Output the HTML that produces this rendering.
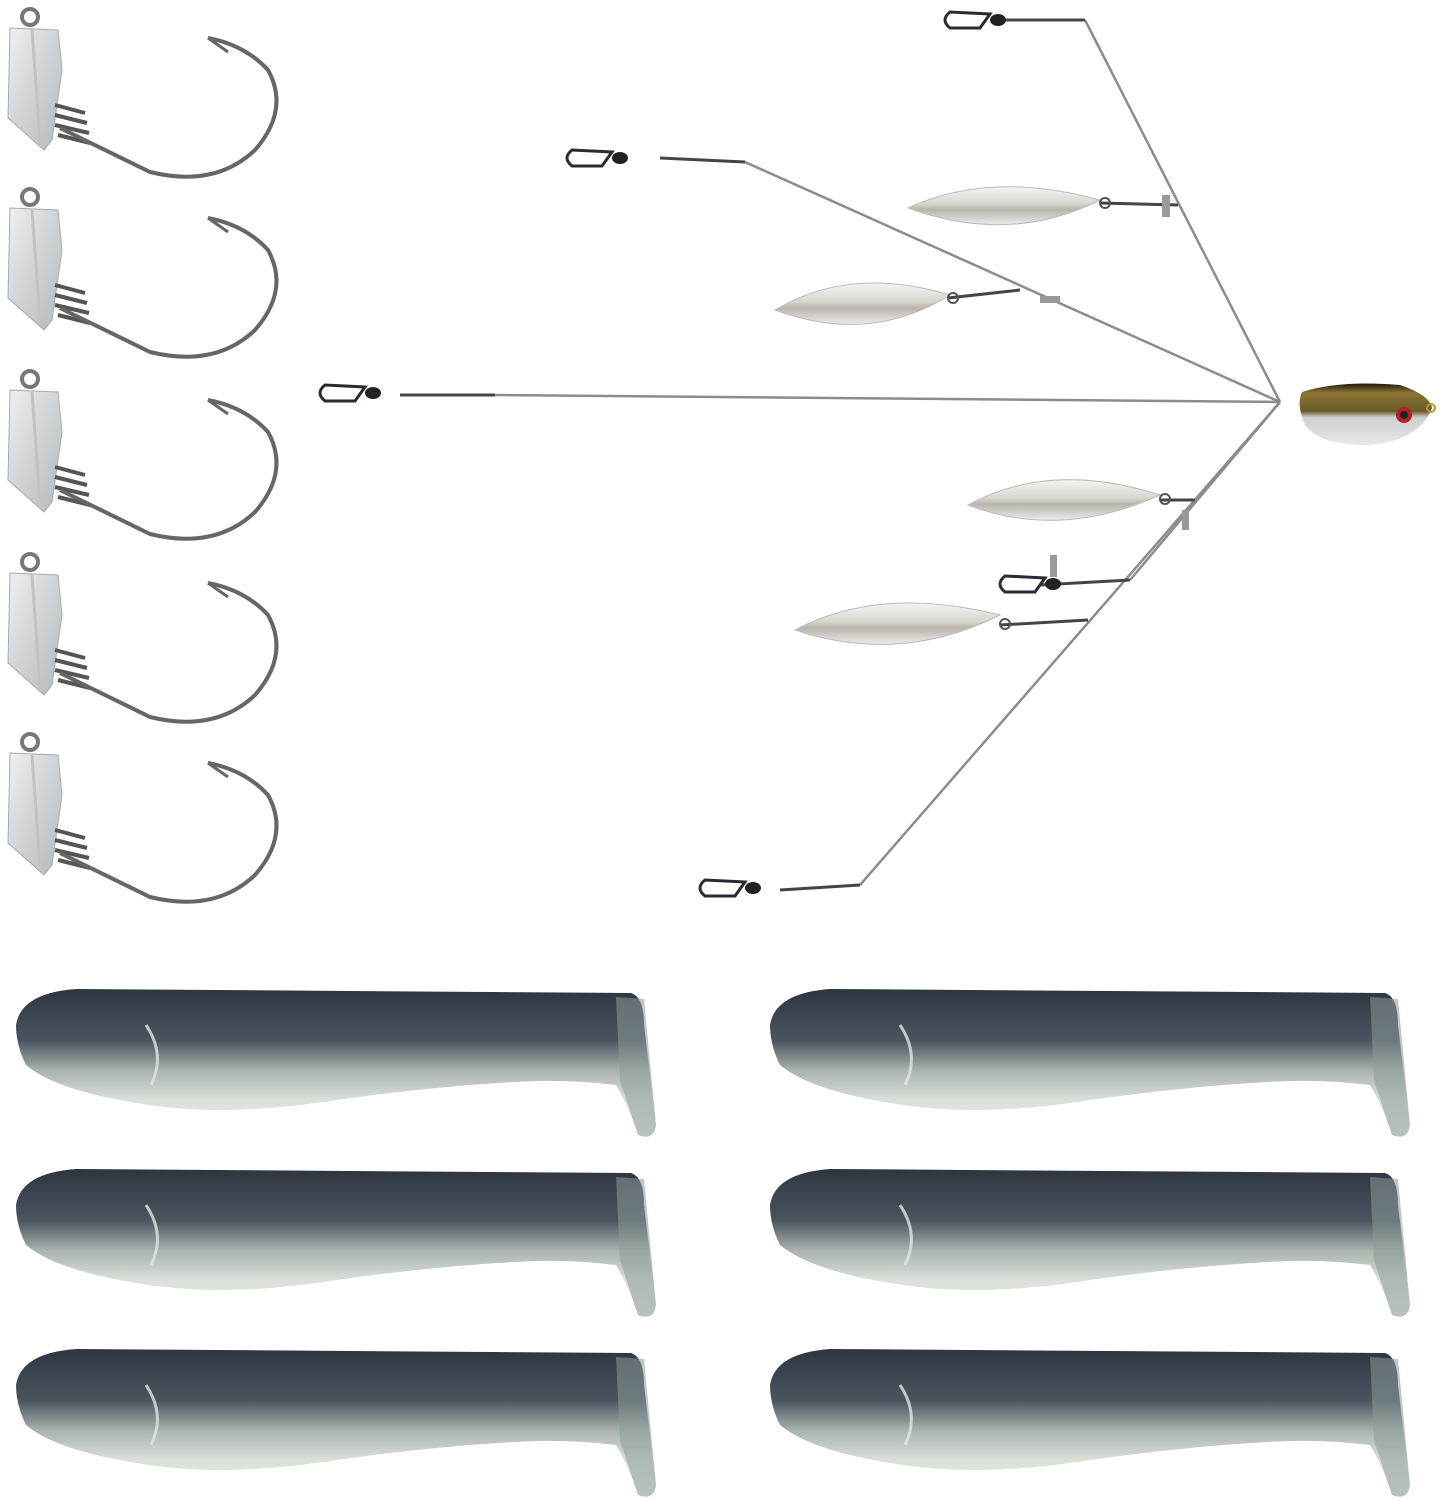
<!DOCTYPE html>
<html><head><meta charset="utf-8"><style>
html,body{margin:0;padding:0;background:#fff;}
svg{display:block}
</style></head><body>
<svg width="1442" height="1500" viewBox="0 0 1442 1500" xmlns="http://www.w3.org/2000/svg">
<defs>
<linearGradient id="lead" x1="0" y1="0" x2="1" y2="1">
<stop offset="0" stop-color="#eef0f2"/><stop offset="0.5" stop-color="#cfd3d6"/><stop offset="1" stop-color="#b4b9bd"/></linearGradient>
<linearGradient id="blade" x1="0" y1="0" x2="0" y2="1">
<stop offset="0" stop-color="#f4f4f2"/><stop offset="0.45" stop-color="#d9d6cf"/><stop offset="0.6" stop-color="#b9b5ad"/><stop offset="1" stop-color="#ecebe8"/></linearGradient>
<linearGradient id="body" x1="0" y1="0" x2="0" y2="1">
<stop offset="0" stop-color="#2c3540"/><stop offset="0.35" stop-color="#4a5560"/><stop offset="0.55" stop-color="#a9b2ad"/><stop offset="0.75" stop-color="#d9e0d8"/><stop offset="1" stop-color="#eef1ec"/></linearGradient>
<linearGradient id="hd" x1="0" y1="0" x2="0" y2="1">
<stop offset="0" stop-color="#1f1a10"/><stop offset="0.15" stop-color="#8a7433"/><stop offset="0.45" stop-color="#6b5a2a"/><stop offset="0.55" stop-color="#cfd0d2"/><stop offset="1" stop-color="#e8e8ea"/></linearGradient>
<g id="jig">
<circle cx="30" cy="17" r="8" fill="none" stroke="#777" stroke-width="4"/>
<path d="M10,28 L58,30 L62,70 L52,140 L44,150 L8,118 Z" fill="url(#lead)" stroke="#aaa" stroke-width="1"/>
<path d="M32,30 L40,140" stroke="#bfc3c6" stroke-width="3"/>
<path d="M55,105 l30,8 M55,115 l32,8 M55,125 l34,8 M58,135 l32,8" stroke="#555" stroke-width="4"/>
<path d="M60,128 L150,172 Q215,188 255,150 Q290,110 268,70 Q245,45 208,38" fill="none" stroke="#666" stroke-width="4"/>
<path d="M208,38 l20,14" stroke="#666" stroke-width="3"/>
</g>
<g id="bait">
<path d="M0,40 Q5,8 60,4 L615,8 Q628,12 628,40 L640,140 Q638,156 622,150 Q612,120 600,100 Q560,95 520,96 Q420,100 300,118 Q200,132 120,118 Q40,105 10,80 Q0,60 0,40 Z" fill="url(#body)"/>
<path d="M600,12 L628,14 L640,140 Q638,156 622,150 Q612,120 604,95 Z" fill="#8d9a98" opacity="0.55"/>
<path d="M130,40 Q150,70 135,100" fill="none" stroke="#e0e6e2" stroke-width="3" opacity="0.8"/>
</g>
<g id="snap">
<path d="M0,0 q-10,8 0,16 l30,0 l10,-14 z" fill="none" stroke="#2a2a35" stroke-width="3"/>
<ellipse cx="48" cy="8" rx="8" ry="6" fill="#222"/>
</g>
</defs>
<rect width="1442" height="1500" fill="#fff"/>
<use href="#jig" x="0" y="0"/>
<use href="#jig" x="0" y="180"/>
<use href="#jig" x="0" y="362"/>
<use href="#jig" x="0" y="545"/>
<use href="#jig" x="0" y="725"/>

<g stroke="#8c8c8c" stroke-width="2.5" fill="none">
<path d="M1280,402 L1085,20"/>
<path d="M1280,402 L745,162"/>
<path d="M1280,402 L495,395"/>
<path d="M1280,402 L860,885"/>
<path d="M1280,402 L1130,580"/>
</g>
<g fill="none" stroke="#444" stroke-width="3">
<path d="M1000,20 L1085,20"/><path d="M660,158 L745,162"/><path d="M400,395 L495,395"/><path d="M780,890 L860,885"/><path d="M1040,585 L1130,580"/>
<path d="M1100,203 L1178,205"/><path d="M948,298 L1020,290"/><path d="M1160,500 L1195,500"/><path d="M1000,625 L1088,620"/>
</g>
<g fill="#999"><rect x="1162" y="195" width="8" height="22"/><rect x="1040" y="296" width="20" height="7"/><rect x="1050" y="555" width="7" height="22"/><rect x="1182" y="510" width="7" height="20"/></g>
<use href="#snap" x="950" y="12"/>
<use href="#snap" x="572" y="150"/>
<use href="#snap" x="325" y="385"/>
<use href="#snap" x="705" y="880"/>
<use href="#snap" x="1005" y="576"/>
<path d="M908,208 Q990,170 1100,200 Q1010,245 908,208 Z" fill="url(#blade)" stroke="#bbb"/>
<path d="M775,310 Q850,265 950,295 Q870,345 775,310 Z" fill="url(#blade)" stroke="#bbb"/>
<path d="M968,505 Q1050,460 1160,495 Q1060,540 968,505 Z" fill="url(#blade)" stroke="#bbb"/>
<path d="M795,630 Q880,585 1000,615 Q900,665 795,630 Z" fill="url(#blade)" stroke="#bbb"/>
<g fill="none" stroke="#555" stroke-width="2"><circle cx="1105" cy="203" r="5"/><circle cx="953" cy="298" r="5"/><circle cx="1165" cy="499" r="5"/><circle cx="1005" cy="624" r="5"/></g>
<path d="M1302,392 Q1340,380 1400,385 Q1430,395 1432,408 Q1420,440 1370,445 Q1320,446 1305,425 Q1296,405 1302,392 Z" fill="url(#hd)"/>
<circle cx="1404" cy="415" r="8" fill="#b52020"/><circle cx="1404" cy="415" r="4" fill="#222"/>
<circle cx="1431" cy="408" r="4" fill="none" stroke="#b8952e" stroke-width="2"/>

<use href="#bait" x="16" y="985"/>
<use href="#bait" x="770" y="985"/>
<use href="#bait" x="16" y="1165"/>
<use href="#bait" x="770" y="1165"/>
<use href="#bait" x="16" y="1345"/>
<use href="#bait" x="770" y="1345"/>
</svg>
</body></html>
